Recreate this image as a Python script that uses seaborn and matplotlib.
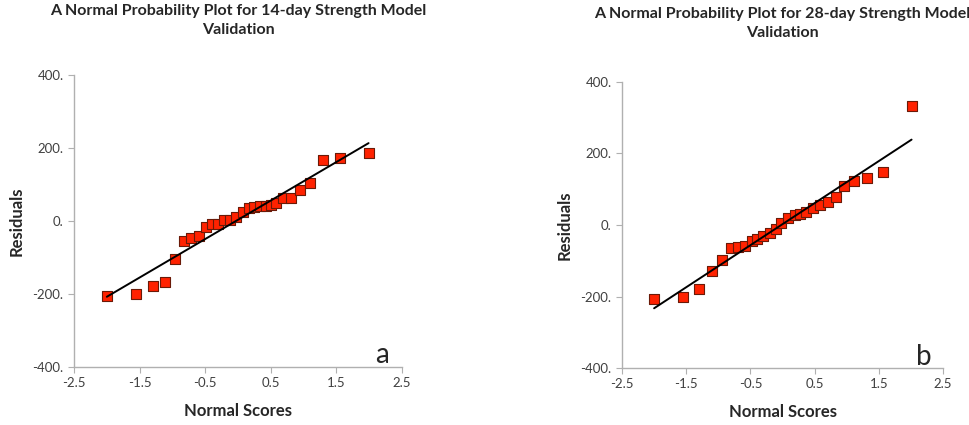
import numpy as np
import pandas as pd
import matplotlib
matplotlib.use("Agg")
import matplotlib.pyplot as plt
import seaborn as sns

sns.set_style("white")
plt.rcParams["font.family"] = ["Lato", "DejaVu Sans"]

# 14-day model: normal scores vs residuals
scores_14 = [-2.00, -1.55, -1.30, -1.11, -0.96, -0.82, -0.71, -0.59, -0.49, -0.40,
             -0.30, -0.21, -0.12, -0.03, 0.07, 0.17, 0.25, 0.34, 0.42, 0.50,
             0.58, 0.68, 0.81, 0.95, 1.10, 1.30, 1.55, 1.99]
resid_14 = [-205, -200, -177, -167, -103, -54, -47, -42, -16, -9,
            -7, 2, 3, 12, 26, 35, 37, 42, 42, 45,
            50, 63, 63, 86, 104, 166, 173, 186]

# 28-day model
scores_28 = [-2.00, -1.55, -1.30, -1.10, -0.95, -0.81, -0.70, -0.59, -0.47, -0.39,
             -0.30, -0.20, -0.10, -0.02, 0.09, 0.19, 0.27, 0.37, 0.48, 0.58,
             0.71, 0.83, 0.95, 1.11, 1.31, 1.56, 2.01]
resid_28 = [-208, -202, -180, -129, -99, -65, -62, -58, -45, -38,
            -31, -22, -12, 5, 20, 27, 32, 37, 47, 56,
            65, 78, 109, 123, 132, 149, 332]

titles = ["A Normal Probability Plot for 14-day Strength Model\nValidation",
          "A Normal Probability Plot for 28-day Strength Model\nValidation"]
letters = ["a", "b"]
x_ticks = [-2.5, -1.5, -0.5, 0.5, 1.5, 2.5]
y_ticks = [-400, -200, 0, 200, 400]

fig = plt.figure(figsize=(9.69, 4.25), dpi=100)
ax1 = fig.add_axes([0.0764, 0.1365, 0.3385, 0.687])
ax2 = fig.add_axes([0.6419, 0.1341, 0.3313, 0.673])

panels = [(ax1, scores_14, resid_14), (ax2, scores_28, resid_28)]
for i, (ax, xs, ys) in enumerate(panels):
    df = pd.DataFrame({"score": xs, "resid": ys})
    sns.regplot(data=df, x="score", y="resid", ax=ax, ci=None, marker="s",
                scatter_kws=dict(s=60, color="#ff2200", edgecolors="#6a1a08",
                                 linewidths=0.8, alpha=1, zorder=3),
                line_kws=dict(color="black", lw=1.4, zorder=4))
    ax.set_xlim(-2.5, 2.5)
    ax.set_ylim(-400, 400)
    ax.set_xticks(x_ticks)
    ax.set_xticklabels([f"{t}" for t in x_ticks])
    ax.set_yticks(y_ticks)
    ax.set_yticklabels([f"{t}." for t in y_ticks])
    ax.tick_params(axis="both", labelsize=9.5, colors="#404040", length=4,
                   width=0.8, direction="out", bottom=True, left=True)
    ax.tick_params(axis="both", color="#b0b0b0")
    for side in ["top", "right"]:
        ax.spines[side].set_visible(False)
    for side in ["left", "bottom"]:
        ax.spines[side].set_color("#b0b0b0")
        ax.spines[side].set_linewidth(1.0)
    ax.set_xlabel("Normal Scores", fontsize=12, fontweight="bold", labelpad=10)
    ax.set_ylabel("Residuals", fontsize=12, fontweight="bold", labelpad=6)
    pos = ax.get_position()
    fig.text(pos.x0 + pos.width / 2, 1 - 4 / 425 - (i * 3) / 425, titles[i],
             fontsize=11.5, fontweight="bold", ha="center", va="top",
             linespacing=1.45)
    ax.text(2.2, -368, letters[i], fontsize=20, ha="center", va="center")

fig.savefig("out.png", dpi=100, facecolor="white")
